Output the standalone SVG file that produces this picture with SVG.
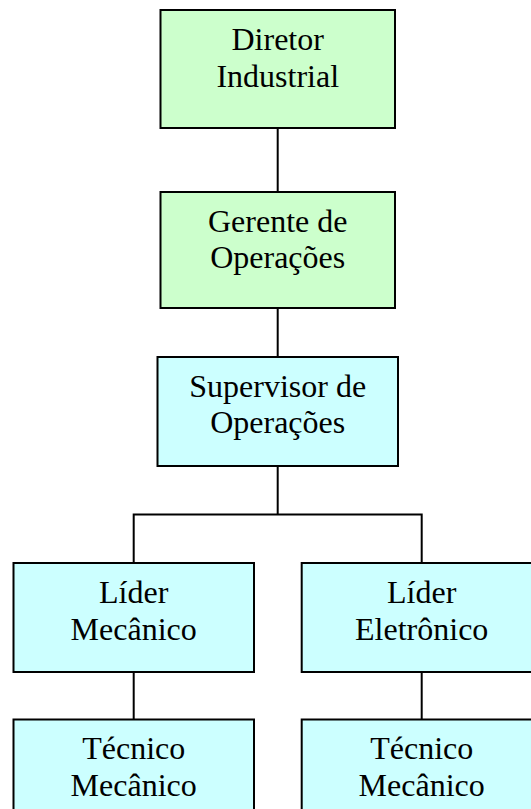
<svg xmlns="http://www.w3.org/2000/svg" width="531" height="809" viewBox="0 0 531 809">
<style>
.box{stroke:#000;stroke-width:2}
.g{fill:#CCFFCC}
.c{fill:#CCFFFF}
.t{font-family:"Liberation Serif","Times New Roman",serif;font-size:32px;fill:#000;text-anchor:middle}
.ln{stroke:#000;stroke-width:2;fill:none}
</style>
<rect width="531" height="809" fill="#fff"/>
<g id="connectors">
<line class="ln" x1="277.7" y1="128" x2="277.7" y2="192"/>
<line class="ln" x1="277.7" y1="308" x2="277.7" y2="357"/>
<line class="ln" x1="277.7" y1="466" x2="277.7" y2="514.5"/>
<polyline class="ln" points="133.7,563 133.7,514.5 421.7,514.5 421.7,563"/>
<line class="ln" x1="133.7" y1="672" x2="133.7" y2="719.5"/>
<line class="ln" x1="421.7" y1="672" x2="421.7" y2="719.5"/>
</g>
<g id="diretor">
<rect class="box g" x="160.5" y="10" width="234.5" height="118"/>
<text class="t" x="277.7" y="50">Diretor</text>
<text class="t" x="277.7" y="86.7">Industrial</text>
</g>
<g id="gerente">
<rect class="box g" x="160.5" y="192" width="234.5" height="116"/>
<text class="t" x="277.7" y="231.7">Gerente de</text>
<text class="t" x="277.7" y="268.3">Operações</text>
</g>
<g id="supervisor">
<rect class="box c" x="157.5" y="357" width="240.5" height="109"/>
<text class="t" x="277.7" y="396.7">Supervisor de</text>
<text class="t" x="277.7" y="433.3">Operações</text>
</g>
<g id="lider-mecanico">
<rect class="box c" x="13.5" y="563" width="240.5" height="109"/>
<text class="t" x="133.7" y="603.3">Líder</text>
<text class="t" x="133.7" y="640">Mecânico</text>
</g>
<g id="lider-eletronico">
<rect class="box c" x="301.7" y="563" width="240" height="109"/>
<text class="t" x="421.7" y="603.3">Líder</text>
<text class="t" x="421.7" y="640">Eletrônico</text>
</g>
<g id="tecnico-mecanico-1">
<rect class="box c" x="13.5" y="719.5" width="240.5" height="109"/>
<text class="t" x="133.7" y="759.3">Técnico</text>
<text class="t" x="133.7" y="796">Mecânico</text>
</g>
<g id="tecnico-mecanico-2">
<rect class="box c" x="301.7" y="719.5" width="240" height="109"/>
<text class="t" x="421.7" y="759.3">Técnico</text>
<text class="t" x="421.7" y="796">Mecânico</text>
</g>
</svg>
